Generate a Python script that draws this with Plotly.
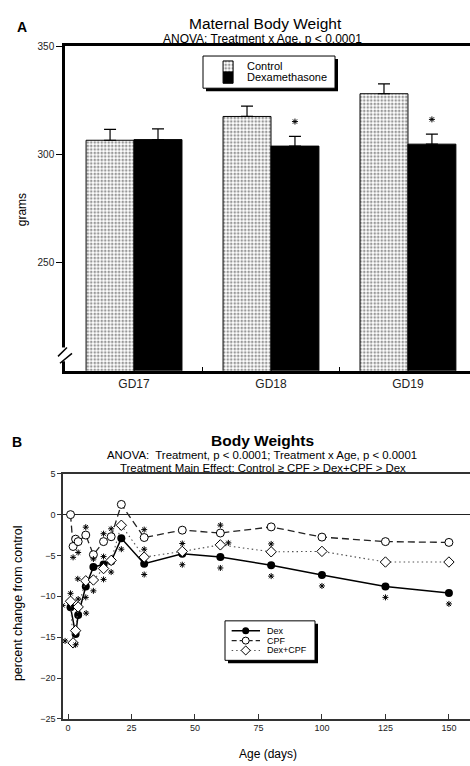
import plotly.graph_objects as go

W, H = 470, 766
FONT = "Liberation Sans, Arial, Helvetica, sans-serif"

# ---------------- Panel A data ----------------
gd_labels = ["GD17", "GD18", "GD19"]
gd_pos = [0, 1, 2]
control_wt = [306.5, 317.5, 328.0]
control_err = [5.0, 4.8, 4.6]
dexa_wt = [306.8, 303.8, 304.7]
dexa_err = [5.0, 4.5, 4.6]
dexa_sig = [False, True, True]

# ---------------- Panel B data ----------------
dex_days = [1, 3, 4, 7, 10, 14, 17, 21, 30, 45, 60, 80, 100, 125, 150]
dex_pct = [-11.35, -14.6, -12.3, -8.8, -6.4, -6.1, -5.7, -2.9, -6.0, -4.8, -5.2, -6.2, -7.4, -8.8, -9.6]
dex_sig = ['l', 'b', 'r', 'b', 'a', 'a', 'b', 'b', 'b', 'b', 'b', 'b', 'b', 'b', 'b']

cpf_days = [1, 2, 3, 4, 7, 10, 14, 17, 21, 30, 45, 60, 80, 100, 125, 150]
cpf_pct = [0.0, -3.9, -3.0, -3.3, -2.5, -4.9, -3.3, -2.7, 1.25, -2.8, -1.9, -2.25, -1.5, -2.75, -3.3, -3.4]
cpf_sig = ['', 'b', '', 'b', 'a', '', 'a', 'a', '', 'a', '', 'a', '', '', '', '']

dc_days = [1, 2, 3, 4, 7, 10, 14, 17, 21, 30, 45, 60, 80, 100, 125, 150]
dc_pct = [-10.6, -15.7, -14.2, -11.3, -8.1, -8.0, -6.6, -5.6, -1.3, -5.2, -4.5, -3.7, -4.55, -4.5, -5.8, -5.8]
dc_sig = ['a', 'l', '', 'a', 'l', 'b', 'b', '', '', 'a', 'a', 'r', 'a', '', '', '']

age_ticks = [0, 25, 50, 75, 100, 125, 150]
pct_ticks = [-25, -20, -15, -10, -5, 0, 5]

# ---------------- geometry (pixels) ----------------
def px_x(p):
    return p / W


def px_y(p):
    return 1 - p / H


A_left, A_right, A_top, A_bot = 65, 470, 41.7, 370.5
B_left, B_right, B_top, B_bot = 63, 470, 475, 723.3
A_xrange = [-0.504, 2.453]
A_yrange = [200, 350]
B_xrange = [-1.97, 158.3]
B_yrange = [-25, 5]

A_px_per_unit = (A_bot - A_top) / (A_yrange[1] - A_yrange[0])
B_px_per_unit = (B_bot - B_top) / (B_yrange[1] - B_yrange[0])
B_px_per_day = (B_right - B_left) / (B_xrange[1] - B_xrange[0])

fig = go.Figure()

# ---------------- Panel A bars ----------------
stipple = dict(shape=".", size=3.5, solidity=0.45, fgcolor="#333333", bgcolor="white")
fig.add_trace(go.Bar(
    x=gd_pos, y=control_wt, name="Control", xaxis="x", yaxis="y",
    marker=dict(color="white", pattern=stipple, line=dict(color="black", width=1)),
    error_y=dict(type="data", symmetric=False, array=control_err, arrayminus=[0] * 3,
                 color="black", thickness=1.2, width=6),
    showlegend=False))
fig.add_trace(go.Bar(
    x=gd_pos, y=dexa_wt, name="Dexamethasone", xaxis="x", yaxis="y",
    marker=dict(color="black", line=dict(color="black", width=1)),
    error_y=dict(type="data", symmetric=False, array=dexa_err, arrayminus=[0] * 3,
                 color="black", thickness=1.2, width=6),
    showlegend=False))

half_bar = 0.175
sx = [p + half_bar for p, s in zip(gd_pos, dexa_sig) if s]
sy = [v + e + 15 / A_px_per_unit for v, e, s in zip(dexa_wt, dexa_err, dexa_sig) if s]
fig.add_trace(go.Scatter(x=sx, y=sy, mode="markers", xaxis="x", yaxis="y",
                         marker=dict(symbol="asterisk-open", size=5, color="black",
                                     line=dict(color="black", width=1)),
                         showlegend=False, hoverinfo="skip"))

# ---------------- Panel B lines ----------------
fig.add_trace(go.Scatter(x=dex_days, y=dex_pct, name="Dex", xaxis="x2", yaxis="y2",
                         mode="lines+markers", line=dict(color="black", width=1.5),
                         marker=dict(symbol="circle", size=8, color="black"), showlegend=False))
fig.add_trace(go.Scatter(x=cpf_days, y=cpf_pct, name="CPF", xaxis="x2", yaxis="y2",
                         mode="lines+markers", line=dict(color="#222", width=1.3, dash="7px,4px"),
                         marker=dict(symbol="circle", size=8, color="white", line=dict(color="black", width=1)),
                         showlegend=False))
fig.add_trace(go.Scatter(x=dc_days, y=dc_pct, name="Dex+CPF", xaxis="x2", yaxis="y2",
                         mode="lines+markers", line=dict(color="#555", width=1.1, dash="1.5px,3px"),
                         marker=dict(symbol="diamond", size=8, color="white", line=dict(color="black", width=1)),
                         showlegend=False))

offs = {'a': (0, -8), 'b': (0, 11), 'r': (8, -2), 'l': (-8, -2)}
star_x, star_y = [], []
for days, vals, sig in [(dex_days, dex_pct, dex_sig), (cpf_days, cpf_pct, cpf_sig), (dc_days, dc_pct, dc_sig)]:
    for d, v, s in zip(days, vals, sig):
        if s:
            dx, dy = offs[s]
            star_x.append(d + dx / B_px_per_day)
            star_y.append(v - dy / B_px_per_unit)
fig.add_trace(go.Scatter(x=star_x, y=star_y, mode="markers", xaxis="x2", yaxis="y2",
                         marker=dict(symbol="asterisk-open", size=5, color="black",
                                     line=dict(color="black", width=1)),
                         showlegend=False, hoverinfo="skip"))

# ---------------- Legend A (drawn on its own small axis) ----------------
LA = (203, 335, 51.7, 84.3)
fig.add_trace(go.Bar(x=[0.19], y=[0.347], base=[0.5], width=[0.076], offset=-0.038,
                     xaxis="x3", yaxis="y3", showlegend=False, hoverinfo="skip",
                     marker=dict(color="white", pattern=stipple, line=dict(color="black", width=1))))
fig.add_trace(go.Bar(x=[0.19], y=[0.347], base=[0.153], width=[0.076], offset=-0.038,
                     xaxis="x3", yaxis="y3", showlegend=False, hoverinfo="skip",
                     marker=dict(color="black", line=dict(color="black", width=1))))

# ---------------- Legend B ----------------
LB = (225, 315, 624, 664)
leg_items = [("Dex", 0.75, dict(color="black", width=1.5), dict(symbol="circle", size=7, color="black")),
             ("CPF", 0.5, dict(color="#222", width=1.2, dash="5px,3px"),
              dict(symbol="circle", size=7, color="white", line=dict(color="black", width=1))),
             ("Dex+CPF", 0.25, dict(color="#555", width=1.1, dash="1.5px,3px"),
              dict(symbol="diamond", size=7, color="white", line=dict(color="black", width=1)))]
for name, yy, ln, mk in leg_items:
    fig.add_trace(go.Scatter(x=[0.074, 0.389], y=[yy, yy], mode="lines", line=ln,
                             xaxis="x4", yaxis="y4", showlegend=False, hoverinfo="skip"))
    fig.add_trace(go.Scatter(x=[0.23], y=[yy], mode="markers", marker=mk,
                             xaxis="x4", yaxis="y4", showlegend=False, hoverinfo="skip"))

# ---------------- shapes ----------------
shapes = []
for (x0, x1, y0, y1) in [LA, LB]:
    shapes.append(dict(type="rect", xref="paper", yref="paper", layer="below",
                       x0=px_x(x0 + 3), x1=px_x(x1 + 3), y0=px_y(y1 + 3), y1=px_y(y0 + 3),
                       fillcolor="black", line=dict(width=0)))
    shapes.append(dict(type="rect", xref="paper", yref="paper", layer="below",
                       x0=px_x(x0), x1=px_x(x1), y0=px_y(y1), y1=px_y(y0),
                       fillcolor="white", line=dict(color="black", width=1)))
# axis break on panel A
shapes.append(dict(type="rect", xref="paper", yref="paper", layer="above",
                   x0=px_x(61), x1=px_x(70), y0=px_y(361), y1=px_y(347),
                   fillcolor="white", line=dict(width=0)))
shapes.append(dict(type="line", xref="paper", yref="paper", layer="above",
                   x0=px_x(58), y0=px_y(356), x1=px_x(67), y1=px_y(347),
                   line=dict(color="black", width=1.5)))
shapes.append(dict(type="line", xref="paper", yref="paper", layer="above",
                   x0=px_x(60), y0=px_y(363), x1=px_x(72), y1=px_y(353),
                   line=dict(color="black", width=1.5)))

# ---------------- annotations ----------------
def ann(text, x, y, size, bold=False, xanchor="center", textangle=0, xref="paper", yref="paper", color="black"):
    return dict(text=("<b>%s</b>" % text) if bold else text, x=x, y=y, xref=xref, yref=yref,
                xanchor=xanchor, yanchor="middle", showarrow=False, textangle=textangle,
                font=dict(family=FONT, size=size, color=color))


annotations = [
    ann("A", px_x(22), px_y(22), 14, bold=True),
    ann("Maternal Body Weight", px_x(265), px_y(18.5), 15.5),
    ann("ANOVA: Treatment x Age, p &lt; 0.0001", px_x(262.5), px_y(34.5), 12),
    ann("grams", px_x(22), px_y(208), 12, textangle=-90),
    ann("Control", (245 - LA[0]) / (LA[1] - LA[0]), 0.693, 11, xanchor="left", xref="x3", yref="y3"),
    ann("Dexamethasone", (245 - LA[0]) / (LA[1] - LA[0]), 0.337, 11, xanchor="left", xref="x3", yref="y3"),
    ann("B", px_x(17), px_y(442.5), 14, bold=True),
    ann("Body Weights", px_x(262.5), px_y(441.5), 15.5, bold=True),
    ann("ANOVA:  Treatment, p &lt; 0.0001; Treatment x Age, p &lt; 0.0001", px_x(262), px_y(455.8), 11.4),
    ann("Treatment Main Effect: Control ≥ CPF &gt; Dex+CPF &gt; Dex", px_x(263), px_y(469.3), 11.4),
    ann("percent change from control", px_x(18), px_y(606), 12.5, textangle=-90),
    ann("Age (days)", px_x(268), px_y(759), 12),
]
for name, yy, _, _ in leg_items:
    annotations.append(ann(name, 0.444, yy, 9, xanchor="left", xref="x4", yref="y4"))

axis_font = dict(family=FONT, size=10, color="#222")

fig.update_layout(
    width=W, height=H, margin=dict(l=0, r=0, t=0, b=0),
    paper_bgcolor="white", plot_bgcolor="rgba(0,0,0,0)",
    barmode="group", bargap=0.3, bargroupgap=0,
    font=dict(family=FONT, color="black"),
    shapes=shapes, annotations=annotations, showlegend=False,
    xaxis=dict(domain=[px_x(A_left), px_x(A_right)], range=A_xrange, anchor="y",
               tickvals=gd_pos, ticktext=gd_labels, ticks="", showgrid=False, zeroline=False,
               showline=True, linecolor="black", linewidth=2.5, mirror=True,
               tickfont=dict(family=FONT, size=12, color="#222"),
               minor=dict(tickvals=[0.5, 1.5], ticks="inside", ticklen=4, tickcolor="black", tickwidth=1)),
    yaxis=dict(domain=[px_y(A_bot), px_y(A_top)], range=A_yrange, anchor="x",
               tickvals=[250, 300, 350], ticks="outside", ticklen=6, tickcolor="black",
               showgrid=False, zeroline=False, showline=True, linecolor="black", linewidth=2.5,
               tickfont=axis_font),
    xaxis2=dict(domain=[px_x(B_left), px_x(B_right)], range=B_xrange, anchor="y2",
                tickvals=age_ticks, ticks="inside", ticklen=5, tickcolor="#333",
                showgrid=False, zeroline=False, showline=True, linecolor="#333", linewidth=1.5, mirror=True,
                tickfont=dict(family=FONT, size=9, color="#222")),
    yaxis2=dict(domain=[px_y(B_bot), px_y(B_top)], range=B_yrange, anchor="x2",
                tickvals=pct_ticks, ticks="outside", ticklen=4, tickcolor="#333",
                showgrid=False, zeroline=True, zerolinecolor="#222", zerolinewidth=1,
                showline=True, linecolor="#333", linewidth=1.5,
                tickfont=dict(family=FONT, size=9, color="#222")),
    xaxis3=dict(domain=[px_x(LA[0]), px_x(LA[1])], range=[0, 1], anchor="y3", visible=False, fixedrange=True),
    yaxis3=dict(domain=[px_y(LA[3]), px_y(LA[2])], range=[0, 1], anchor="x3", visible=False, fixedrange=True),
    xaxis4=dict(domain=[px_x(LB[0]), px_x(LB[1])], range=[0, 1], anchor="y4", visible=False, fixedrange=True),
    yaxis4=dict(domain=[px_y(LB[3]), px_y(LB[2])], range=[0, 1], anchor="x4", visible=False, fixedrange=True),
)

fig.write_html("out.html", config={"displayModeBar": False},
               post_script="document.body.style.margin='0';document.body.style.overflow='hidden';")
